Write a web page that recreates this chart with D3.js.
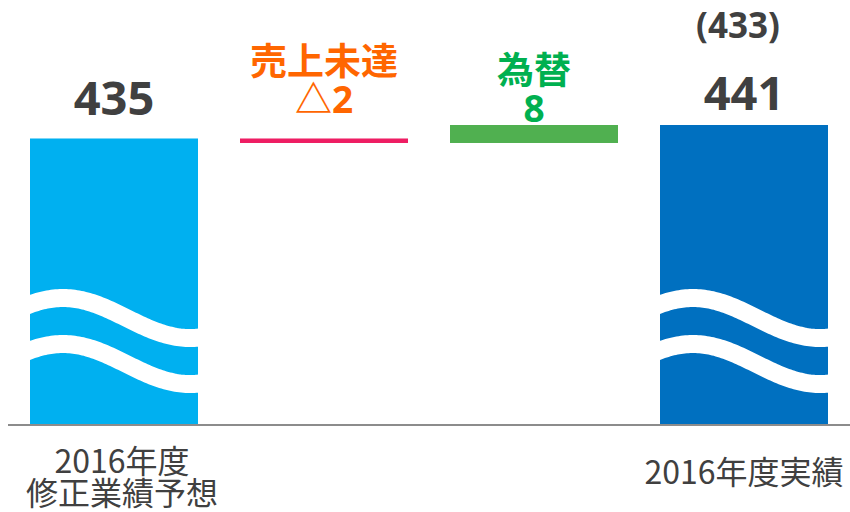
<!DOCTYPE html>
<html>
<head>
<meta charset="utf-8">
<script src="https://cdn.jsdelivr.net/npm/d3@7"></script>
<style>
  body { margin: 0; background: #fff; }
  text { font-family: "Open Sans", "Noto Sans CJK JP", sans-serif; }
</style>
</head>
<body>
<div id="chart"></div>
<script>
const width = 850;
const height = 512;

// data
const categories = ['2016年度\n修正業績予想', '売上未達', '為替', '2016年度実績'];
const values = [435, -2, 8, 441];
const kinds = ['total', 'delta', 'delta', 'total'];
const valueLabels = ['435', '△2', '8', '441'];
const factorLabels = ['', '売上未達', '為替', ''];
const noteLabel = '(433)';

const colors = ['#00b0f0', '#ee1d63', '#50b050', '#0070c0'];
const labelColors = ['#404040', '#ff6600', '#00b050', '#404040'];

// waterfall start / end
let running = 0;
const steps = values.map((v, i) => {
  if (kinds[i] === 'total') {
    running = v;
    return { i, start: null, end: v };
  }
  const s = running;
  running += v;
  return { i, start: s, end: running };
});

const baseline = 424;

const svg = d3.select('#chart')
  .append('svg')
  .attr('width', width)
  .attr('height', height);

const x = d3.scaleBand()
  .domain(d3.range(categories.length))
  .range([9, 849])
  .paddingInner(0.2)
  .paddingOuter(0.1);

const y = d3.scaleLinear()
  .domain([308, 441])
  .range([baseline, 125]);

const defs = svg.append('defs');

steps.forEach(d => {
  const top = d.start === null ? y(d.end) : y(Math.max(d.start, d.end));
  const bottom = d.start === null ? baseline : y(Math.min(d.start, d.end));
  svg.append('rect')
    .attr('x', x(d.i))
    .attr('y', top)
    .attr('width', x.bandwidth())
    .attr('height', bottom - top)
    .attr('fill', colors[d.i]);

  // wave break on the totals (axis does not start at zero)
  if (d.start === null) {
    defs.append('clipPath').attr('id', 'clip' + d.i)
      .append('rect')
      .attr('x', x(d.i))
      .attr('y', top)
      .attr('width', x.bandwidth())
      .attr('height', bottom - top);

    const g = svg.append('g').attr('clip-path', `url(#clip${d.i})`);
    const pts = d3.range(-10, x.bandwidth() + 11, 2);

    [318, 364].forEach(cy => {
      const wave = d3.line()
        .x(t => x(d.i) + t)
        .y(t => cy - 20 * Math.cos(Math.PI * (t - 33) / 127));
      g.append('path')
        .attr('d', wave(pts))
        .attr('fill', 'none')
        .attr('stroke', '#fff')
        .attr('stroke-width', 18);
    });
  }
});

// baseline
svg.append('line')
  .attr('x1', 8).attr('x2', 850)
  .attr('y1', baseline + 1).attr('y2', baseline + 1)
  .attr('stroke', '#8c8c8c')
  .attr('stroke-width', 2);

// value labels
const gaps = [23, 25, 3, 15];
steps.forEach(d => {
  const top = d.start === null ? y(d.end) : y(Math.max(d.start, d.end));
  const cx = x(d.i) + x.bandwidth() / 2;
  const big = d.start === null;
  svg.append('text')
    .attr('x', cx)
    .attr('y', top - gaps[d.i])
    .attr('text-anchor', 'middle')
    .attr('fill', labelColors[d.i])
    .style('font-size', big ? '47px' : '37px')
    .style('font-weight', 'bold')
    .text(valueLabels[d.i]);

  if (factorLabels[d.i]) {
    svg.append('text')
      .attr('x', cx)
      .attr('y', top - gaps[d.i] - 38)
      .attr('text-anchor', 'middle')
      .attr('fill', labelColors[d.i])
      .style('font-family', '"Noto Sans CJK JP", sans-serif')
      .style('font-size', '37px')
      .style('font-weight', 'bold')
      .text(factorLabels[d.i]);
  }
});

svg.append('text')
  .attr('x', x(3) + x.bandwidth() / 2 - 6)
  .attr('y', 38)
  .attr('text-anchor', 'middle')
  .attr('fill', '#404040')
  .style('font-size', '35px')
  .style('font-weight', 'bold')
  .text(noteLabel);

// category labels
categories.forEach((c, i) => {
  if (kinds[i] !== 'total') return;
  const lines = c.split('\n');
  const cx = x(i) + x.bandwidth() / 2 + (lines.length > 1 ? 8 : 0);
  const t = svg.append('text')
    .attr('y', lines.length > 1 ? 473 : 484)
    .attr('text-anchor', 'middle')
    .attr('fill', '#404040')
    .style('font-family', '"Noto Sans CJK JP", sans-serif')
    .style('font-size', '32px');
  lines.forEach((l, k) => {
    t.append('tspan')
      .attr('x', cx)
      .attr('dy', k === 0 ? 0 : 32)
      .text(l);
  });
});
</script>
</body>
</html>
